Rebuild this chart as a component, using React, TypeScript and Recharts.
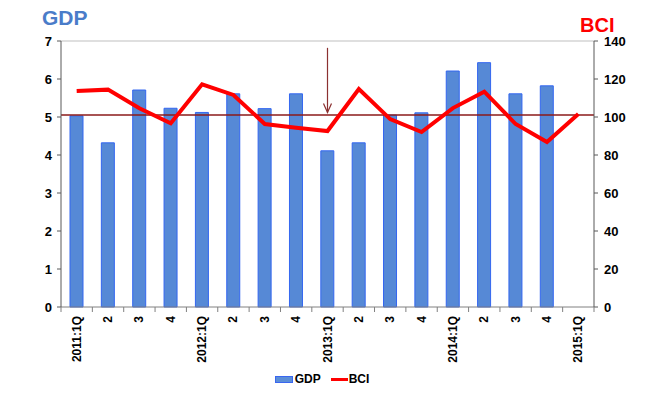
import { ComposedChart, Bar, Line, XAxis, YAxis, ReferenceLine, Legend } from 'recharts';

const quarters = [
  '2011:1Q', '2011:2', '2011:3', '2011:4',
  '2012:1Q', '2012:2', '2012:3', '2012:4',
  '2013:1Q', '2013:2', '2013:3', '2013:4',
  '2014:1Q', '2014:2', '2014:3', '2014:4',
  '2015:1Q',
];

const tickLabels = [
  '2011:1Q', '2', '3', '4',
  '2012:1Q', '2', '3', '4',
  '2013:1Q', '2', '3', '4',
  '2014:1Q', '2', '3', '4',
  '2015:1Q',
];

const gdpValues = [5.03, 4.32, 5.71, 5.23, 5.12, 5.61, 5.22, 5.61, 4.11, 4.32, 5.05, 5.11, 6.21, 6.43, 5.61, 5.82, null];
const bciValues = [113.7, 114.4, 104.6, 96.7, 117.2, 111.6, 96.3, 94.4, 92.6, 114.7, 98.9, 92.1, 104.7, 113.3, 96.3, 86.8, 101.6];

const leftTicks = [0, 1, 2, 3, 4, 5, 6, 7];
const rightTicks = [0, 20, 40, 60, 80, 100, 120, 140];

const data = quarters.map((q, i) => ({ quarter: q, GDP: gdpValues[i], BCI: bciValues[i] }));

const FONT = '"Liberation Sans", Arial, sans-serif';

const XTick = (props: any) => {
  const { x, y, payload, index } = props;
  const off = payload?.offset ?? 0;
  const isLast = index === quarters.length - 1;
  return (
    <g>
      <line x1={x - off} x2={x - off} y1={y} y2={y + 5} stroke="#808080" />
      {isLast && <line x1={x + off} x2={x + off} y1={y} y2={y + 5} stroke="#808080" />}
      <text
        x={x}
        y={y + 9}
        transform={`rotate(-90, ${x}, ${y + 9})`}
        textAnchor="end"
        dominantBaseline="central"
        fontFamily={FONT}
        fontWeight="bold"
        fontSize={12}
        fill="#000"
      >
        {tickLabels[index]}
      </text>
    </g>
  );
};

const Arrow = (props: any) => {
  const { x1, y1, x2, y2 } = props;
  if (x1 == null) return null;
  return (
    <g stroke="#8b3030" strokeWidth={1.2} fill="none">
      <line x1={x1} y1={y1} x2={x2} y2={y2} />
      <path d={`M ${x2 - 4} ${y2 - 9} L ${x2} ${y2} L ${x2 + 4} ${y2 - 9}`} />
    </g>
  );
};

const renderLegend = (props: any) => {
  const items = [...(props.payload || [])].sort((a: any, b: any) =>
    a.type === 'rect' ? -1 : b.type === 'rect' ? 1 : 0
  );
  return (
    <div style={{ display: 'flex', justifyContent: 'center', alignItems: 'center', fontFamily: FONT, fontWeight: 'bold', fontSize: 12, color: '#000' }}>
      {items.map((entry: any) => (
        <div key={entry.value} style={{ display: 'flex', alignItems: 'center', marginRight: 10 }}>
          {entry.type === 'rect' ? (
            <div style={{ width: 18, height: 7, background: '#5b8ed8', border: '1px solid #3a66f0', boxSizing: 'border-box', marginRight: 2 }} />
          ) : (
            <div style={{ width: 17, height: 3, background: '#ff0000', marginRight: 1 }} />
          )}
          <span>{entry.value}</span>
        </div>
      ))}
    </div>
  );
};

export default function App() {
  return (
    <div style={{ position: 'absolute', left: 0, top: 0, width: 656, height: 400, background: '#fff' }}>
      <div style={{ position: 'absolute', left: 42, top: 7, fontFamily: FONT, fontWeight: 'bold', fontSize: 21, lineHeight: 1, color: '#4a7cc9' }}>
        GDP
      </div>
      <div style={{ position: 'absolute', left: 580, top: 15, fontFamily: FONT, fontWeight: 'bold', fontSize: 20, lineHeight: 1, color: '#ff0000' }}>
        BCI
      </div>
      <ComposedChart
        width={656}
        height={400}
        data={data}
        margin={{ top: 41, right: 22, left: 20, bottom: 6 }}
        style={{ fontFamily: FONT }}
      >
        <XAxis
          dataKey="quarter"
          interval={0}
          height={65}
          tickLine={false}
          tickSize={0}
          tickMargin={0}
          stroke="#808080"
          tick={<XTick />}
        />
        <YAxis
          yAxisId="left"
          domain={[0, 7]}
          ticks={leftTicks}
          width={41}
          tickSize={4}
          tickMargin={5}
          stroke="#595959"
          tick={{ fill: '#000', fontWeight: 'bold', fontSize: 13 }}
        />
        <YAxis
          yAxisId="right"
          orientation="right"
          domain={[0, 140]}
          ticks={rightTicks}
          width={40}
          tickSize={4}
          tickMargin={6}
          stroke="#595959"
          tick={{ fill: '#000', fontWeight: 'bold', fontSize: 13 }}
        />
        <ReferenceLine yAxisId="left" y={7} stroke="#d4d4d4" strokeWidth={1.5} />
        <Bar
          yAxisId="left"
          dataKey="GDP"
          barSize={13}
          fill="#5689d6"
          stroke="#3366f0"
          strokeWidth={1}
          legendType="rect"
          isAnimationActive={false}
        />
        <ReferenceLine yAxisId="right" y={101} stroke="#8b1a1a" strokeWidth={1.5} />
        <ReferenceLine
          yAxisId="left"
          segment={[{ x: '2013:1Q', y: 6.82 }, { x: '2013:1Q', y: 5.12 }]}
          shape={<Arrow />}
        />
        <Line
          yAxisId="right"
          dataKey="BCI"
          stroke="#ff0000"
          strokeWidth={4}
          dot={false}
          legendType="plainline"
          isAnimationActive={false}
        />
        <Legend verticalAlign="bottom" height={22} content={renderLegend} />
      </ComposedChart>
    </div>
  );
}
